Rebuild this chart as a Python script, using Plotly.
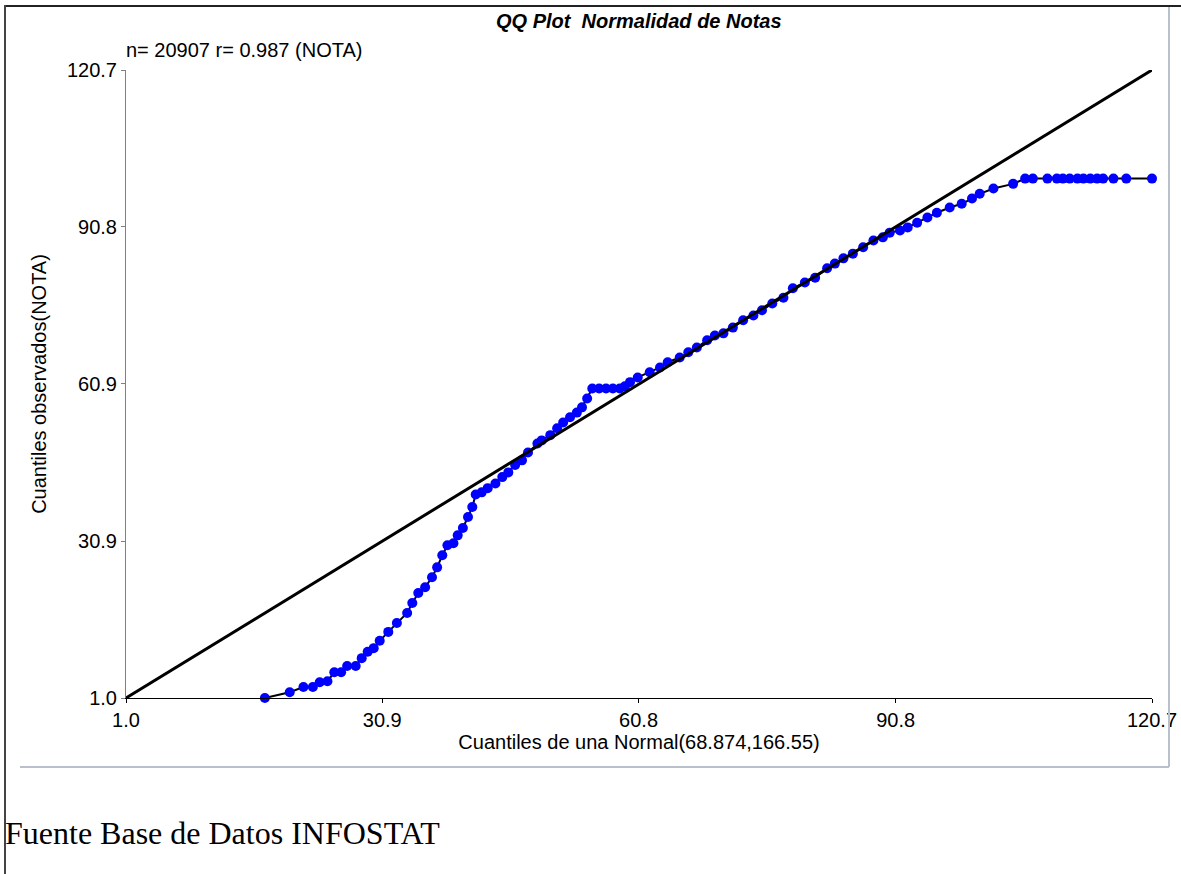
import plotly.graph_objects as go

qx = [17.2, 20.1, 21.7, 22.8, 23.6, 24.5, 25.3, 26.1, 26.8, 27.8,
      28.5, 29.2, 29.9, 30.6, 31.6, 32.6, 33.8, 34.4, 35.1, 35.9,
      36.7, 37.3, 37.9, 38.5, 39.2, 39.7, 40.3, 40.9, 41.4, 41.8,
      42.5, 43.2, 44.1, 44.9, 45.6, 46.4, 47.2, 47.9, 49.0, 49.5,
      50.5, 51.3, 52.0, 52.8, 53.6, 54.2, 54.8, 55.4, 56.2, 57.0,
      57.8, 58.6, 59.2, 59.8, 60.7, 62.1, 63.3, 64.2, 65.6, 66.6,
      67.6, 68.8, 69.7, 70.7, 71.8, 73.0, 74.2, 75.2, 76.4, 77.7,
      78.8, 80.2, 81.4, 82.8, 83.7, 84.7, 85.8, 87.0, 88.2, 89.3,
      90.1, 91.3, 92.2, 93.3, 94.5, 95.6, 97.1, 98.5, 99.7, 100.6,
      102.2, 104.5, 105.9, 106.8, 108.5, 109.6, 110.3, 111.1, 112.0, 112.7,
      113.5, 114.3, 115.0, 116.2, 117.7, 120.7]
qy = [1.0, 2.1, 3.1, 3.1, 4.0, 4.2, 5.9, 5.9, 7.1, 7.1,
      8.6, 9.8, 10.5, 11.9, 13.6, 15.3, 17.2, 19.1, 21.0, 22.1,
      24.0, 25.9, 28.2, 30.1, 30.5, 32.0, 33.4, 35.5, 37.4, 39.8,
      40.2, 41.0, 41.9, 43.1, 44.0, 45.4, 46.3, 47.8, 49.5, 50.1,
      51.1, 52.4, 53.5, 54.5, 55.4, 56.4, 58.1, 60.0, 60.0, 60.0,
      60.0, 60.0, 60.4, 61.2, 62.1, 63.1, 64.0, 65.0, 65.9, 66.9,
      67.8, 69.2, 70.1, 70.5, 71.6, 73.0, 73.9, 74.9, 76.2, 77.3,
      79.1, 80.2, 81.1, 82.9, 83.8, 84.8, 85.7, 86.9, 88.2, 88.8,
      89.7, 90.1, 90.7, 91.6, 92.6, 93.5, 94.5, 95.2, 96.2, 97.1,
      98.1, 99.0, 100.0, 100.0, 100.0, 100.0, 100.0, 100.0, 100.0, 100.0,
      100.0, 100.0, 100.0, 100.0, 100.0, 100.0]

ref_line = [1.0, 120.7]
x_ticks = [1.0, 30.9, 60.8, 90.8, 120.7]
x_tick_labels = ["1.0", "30.9", "60.8", "90.8", "120.7"]
y_ticks = [1.0, 30.9, 60.9, 90.8, 120.7]
y_tick_labels = ["1.0", "30.9", "60.9", "90.8", "120.7"]

SANS = "Liberation Sans, Arial, sans-serif"
SERIF = "Liberation Serif, Times New Roman, serif"

fig = go.Figure()
fig.add_trace(go.Scatter(
    x=qx, y=qy, mode="lines+markers",
    line=dict(color="black", width=2),
    marker=dict(color="#0000ff", size=10, line=dict(width=0)),
    cliponaxis=False, showlegend=False, hoverinfo="x+y"))
fig.add_trace(go.Scatter(
    x=ref_line, y=ref_line, mode="lines",
    line=dict(color="black", width=3),
    cliponaxis=False, showlegend=False, hoverinfo="skip"))

fig.update_layout(
    width=1181, height=874, autosize=False,
    margin=dict(l=126, r=29, t=70, b=176),
    paper_bgcolor="white", plot_bgcolor="white",
    font=dict(family=SANS, size=20, color="black"),
    showlegend=False,
    xaxis=dict(range=[1.0, 120.7], tickvals=x_ticks, ticktext=x_tick_labels,
               automargin=False,
               showgrid=False, zeroline=False, showline=True, linecolor="black",
               linewidth=1, ticks="outside", ticklen=4, tickcolor="black",
               tickfont=dict(family=SANS, size=20, color="black"),
               title=dict(text="Cuantiles de una Normal(68.874,166.55)",
                          font=dict(family=SANS, size=20), standoff=2)),
    yaxis=dict(range=[1.0, 120.7], tickvals=y_ticks, ticktext=y_tick_labels,
               automargin=False,
               showgrid=False, zeroline=False, showline=True, linecolor="#808080",
               linewidth=1, ticks="outside", ticklen=4, tickcolor="#808080",
               tickfont=dict(family=SANS, size=20, color="black"),
               title=dict(text="Cuantiles observados(NOTA)",
                          font=dict(family=SANS, size=20), standoff=14)),
)

def px_x(p):
    return (p - 126) / 1026.0

def px_y(p):
    return (698 - p) / 628.0

# Title and info text
fig.add_annotation(text="<b><i>QQ Plot&nbsp; Normalidad de Notas</i></b>",
                   xref="paper", yref="paper", x=px_x(639), y=px_y(21),
                   xanchor="center", yanchor="middle", showarrow=False,
                   font=dict(family=SANS, size=20, color="black"))
fig.add_annotation(text="n= 20907 r= 0.987 (NOTA)",
                   xref="paper", yref="paper", x=px_x(124), y=px_y(50),
                   xanchor="left", yanchor="middle", showarrow=False,
                   font=dict(family=SANS, size=20, color="black"))
fig.add_annotation(text="Fuente Base de Datos INFOSTAT",
                   xref="paper", yref="paper", x=px_x(3), y=px_y(833),
                   xanchor="left", yanchor="middle", showarrow=False,
                   font=dict(family=SERIF, size=32, color="black"))

# Frame lines around the figure
shapes = [
    dict(type="line", xref="paper", yref="paper", x0=px_x(4), x1=px_x(1185),
         y0=px_y(6), y1=px_y(6), line=dict(color="#222222", width=2)),
    dict(type="line", xref="paper", yref="paper", x0=px_x(5), x1=px_x(5),
         y0=px_y(5), y1=px_y(880), line=dict(color="#444444", width=2)),
    dict(type="line", xref="paper", yref="paper", x0=px_x(1169), x1=px_x(1169),
         y0=px_y(7), y1=px_y(767), line=dict(color="#b8c0cc", width=2)),
    dict(type="line", xref="paper", yref="paper", x0=px_x(20), x1=px_x(1169),
         y0=px_y(767), y1=px_y(767), line=dict(color="#b8c0cc", width=2)),
]
fig.update_layout(shapes=shapes)

fig.write_html("out.html",
               config={"displayModeBar": False},
               post_script="document.body.style.margin='0';document.body.style.overflow='hidden';")
